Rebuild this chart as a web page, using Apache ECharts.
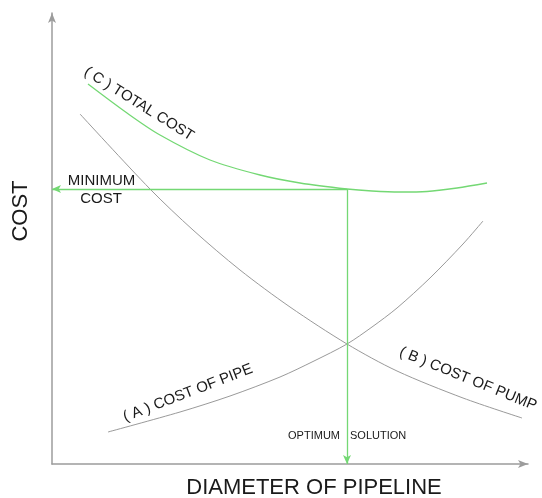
<!DOCTYPE html>
<html>
<head>
<meta charset="utf-8">
<script src="https://cdn.jsdelivr.net/npm/echarts@6/dist/echarts.min.js"></script>
<style>
html,body{margin:0;padding:0;background:#fff;}
#chart{width:542px;height:498px;}
</style>
</head>
<body>
<div id="chart"></div>
<script>
// Curve values (x = diameter, y = cost, arbitrary units)
const totalCost = [[36,380],[75,351],[108,329],[158,304],[208,289],[248,281],[295,275],[320,273],[348,272],[375,272.5],[405,276],[435,281]];
const pumpCost  = [[28,350],[98,275],[141,234],[188,194],[238,157],[295,120],[345,93],[411,66],[470,46]];
const pipeCost  = [[56,32],[128,52],[178,68],[228,87],[262,103],[295,120],[320,137],[345,156],[378,186],[411,220],[431,243]];
const optimum   = [295, 275];   // optimum diameter, minimum cost
const xRange = [0, 476];
const yRange = [0, 451];

const green = '#74d874';
const grayLine = '#9a9a9a';
const textColor = '#1a1a1a';
const family = '"Liberation Sans", Arial, sans-serif';

const chart = echarts.init(document.getElementById('chart'));

const axisCommon = {
  type: 'value',
  axisLine: { show: true, lineStyle: { color: '#9c9c9c', width: 1.5 }, symbol: ['none', 'arrow'], symbolSize: [6, 10] },
  axisTick: { show: false },
  axisLabel: { show: false },
  splitLine: { show: false }
};

function txt(text, x, y, size, deg, align) {
  return {
    type: 'text', x: x, y: y, rotation: (deg || 0) * Math.PI / 180,
    style: { text: text, fontFamily: family, fontSize: size, fill: textColor,
             textAlign: align || 'center', textVerticalAlign: 'middle' }
  };
}

chart.setOption({
  animation: false,
  backgroundColor: '#fff',
  grid: { left: 52, right: 14, top: 13, bottom: 34 },
  xAxis: Object.assign({}, axisCommon, { min: xRange[0], max: xRange[1] }),
  yAxis: Object.assign({}, axisCommon, { min: yRange[0], max: yRange[1] }),
  series: [
    {
      name: '(C) TOTAL COST', type: 'line', data: totalCost, smooth: 0.3, showSymbol: false,
      lineStyle: { color: green, width: 1.3 },
      markLine: {
        silent: true, symbol: ['none', 'arrow'], symbolSize: [6, 9],
        label: { show: false },
        lineStyle: { color: green, width: 1.3, type: 'solid' },
        data: [
          [{ coord: optimum }, { coord: [xRange[0], optimum[1]] }],
          [{ coord: optimum }, { coord: [optimum[0], yRange[0]] }]
        ]
      }
    },
    {
      name: '(B) COST OF PUMP', type: 'line', data: pumpCost, smooth: 0.3, showSymbol: false,
      lineStyle: { color: grayLine, width: 1 }
    },
    {
      name: '(A) COST OF PIPE', type: 'line', data: pipeCost, smooth: 0.3, showSymbol: false,
      lineStyle: { color: grayLine, width: 1 }
    }
  ],
  graphic: [
    txt('COST', 21, 211, 22, 90),
    txt('DIAMETER OF PIPELINE', 314, 488, 22),
    txt('MINIMUM', 101.5, 180.5, 15),
    txt('COST', 101, 199, 15),
    txt('OPTIMUM', 340, 436, 11, 0, 'right'),
    txt('SOLUTION', 350, 436, 11, 0, 'left'),
    txt('( C ) TOTAL COST', 139, 104, 15, -32),
    txt('( A ) COST OF PIPE', 188, 393, 15, 21),
    txt('( B ) COST OF PUMP', 468, 379, 15, -22)
  ]
});
</script>
</body>
</html>
